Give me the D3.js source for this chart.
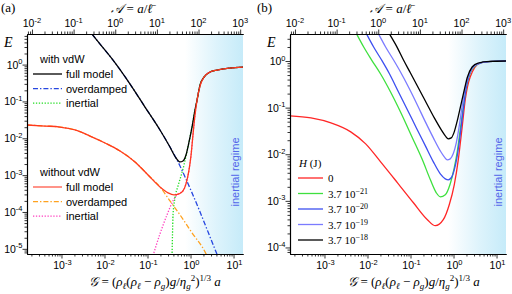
<!DOCTYPE html>
<html><head><meta charset="utf-8">
<script src="https://cdn.jsdelivr.net/npm/d3@7"></script>
<style>body{margin:0;background:#fff}svg{display:block}</style>
</head><body>
<svg id="c" width="512" height="294"></svg>
<script>
// ---------- axis extents & tick labels ----------
const gDomain = [1.58e-4, 16.6];          // G (bottom axis)
const aDomain = [7.6e-3, 1.17e3];         // A = a / l (top axis)
const eDomainA = [7.24e-6, 6.76];         // E panel (a)
const eDomainB = [7.24e-5, 3.80];         // E panel (b)
const gTicks = [1e-3, 1e-2, 1e-1, 1, 10];
const gTickLabels = ['-3', '-2', '-1', '0', '1'];
const aTicks = [1e-2, 1e-1, 1, 10, 100, 1000];
const aTickLabels = ['-2', '-1', '0', '1', '2', '3'];
const eTicksA = [1e-5, 1e-4, 1e-3, 1e-2, 1e-1, 1];
const eTickLabelsA = ['-5', '-4', '-3', '-2', '-1', '0'];
const eTicksB = [1e-4, 1e-3, 1e-2, 1e-1, 1];
const eTickLabelsB = ['-4', '-3', '-2', '-1', '0'];
const regimeStart = 0.745;                // start of "inertial regime" shading (G)

// ---------- panel (a) series ----------
const gA_vdwFull = [5.14e-3, 7.89e-3, 1.58e-2, 3.93e-2, 8.75e-2, 0.195, 0.333, 0.460, 0.570, 0.668, 0.785, 0.923, 1.084, 1.27, 1.42, 1.66, 2.06, 2.84, 4.13, 8.28, 16.6];
const eA_vdwFull = [6.71, 3.60, 1.32, 0.296, 7.05e-2, 1.68e-2, 5.81e-3, 2.92e-3, 2.28e-3, 2.43e-3, 3.52e-3, 7.94e-3, 2.02e-2, 5.85e-2, 0.109, 0.278, 0.458, 0.627, 0.710, 0.804, 0.855];
const gA_vdwOver = [5.14e-3, 7.89e-3, 1.58e-2, 3.93e-2, 8.75e-2, 0.195, 0.333, 0.460, 0.570, 0.745, 1.084, 1.66, 2.55, 3.91, 4.35];
const eA_vdwOver = [6.71, 3.60, 1.32, 0.296, 7.05e-2, 1.68e-2, 5.81e-3, 2.92e-3, 1.77e-3, 8.93e-4, 3.30e-4, 1.01e-4, 2.89e-5, 8.30e-6, 6.07e-6];
const gA_vdwInert = [0.372, 0.381, 0.392, 0.436, 0.512, 0.601, 0.706, 0.785, 0.923, 1.084, 1.27, 1.42, 1.66, 2.06, 2.84, 4.13, 8.28, 16.6];
const eA_vdwInert = [6.46e-6, 2.39e-5, 8.34e-5, 2.41e-4, 5.09e-4, 9.51e-4, 1.89e-3, 3.31e-3, 7.94e-3, 2.02e-2, 5.85e-2, 0.109, 0.278, 0.458, 0.627, 0.710, 0.804, 0.855];
const gA_full = [1.58e-4, 4.15e-4, 9.27e-4, 2.07e-3, 4.61e-3, 1.03e-2, 2.30e-2, 5.13e-2, 0.103, 0.195, 0.300, 0.413, 0.540, 0.668, 0.785, 0.923, 1.03, 1.14, 1.27, 1.42, 1.66, 2.06, 2.84, 4.13, 8.28, 16.6];
const eA_full = [2.29e-2, 2.15e-2, 2.02e-2, 1.68e-2, 1.15e-2, 7.46e-3, 4.53e-3, 2.28e-3, 1.01e-3, 4.79e-4, 3.30e-4, 2.90e-4, 3.10e-4, 3.73e-4, 5.78e-4, 1.38e-3, 3.52e-3, 1.23e-2, 4.28e-2, 0.109, 0.261, 0.458, 0.627, 0.710, 0.804, 0.855];
const gA_over = [1.58e-4, 4.15e-4, 9.27e-4, 2.07e-3, 4.61e-3, 1.03e-2, 2.30e-2, 5.13e-2, 0.103, 0.195, 0.333, 0.570, 1.084, 2.17, 2.42];
const eA_over = [2.29e-2, 2.15e-2, 2.02e-2, 1.68e-2, 1.15e-2, 7.46e-3, 4.53e-3, 2.28e-3, 1.01e-3, 4.79e-4, 2.00e-4, 8.34e-5, 2.72e-5, 8.30e-6, 6.46e-6];
const gA_inert = [0.134, 0.195, 0.284, 0.372, 0.460, 0.570, 0.668, 0.785, 0.923, 1.03, 1.14, 1.27, 1.42, 1.66, 2.06, 2.84, 4.13, 8.28, 16.6];
const eA_inert = [6.46e-6, 2.55e-5, 8.34e-5, 1.77e-4, 2.73e-4, 3.30e-4, 3.73e-4, 5.78e-4, 1.38e-3, 3.52e-3, 1.23e-2, 4.28e-2, 0.109, 0.261, 0.458, 0.627, 0.710, 0.804, 0.855];

// ---------- panel (b) series (Hamaker constant H) ----------
const hLabels = ['0', '3.7 10|-21', '3.7 10|-20', '3.7 10|-19', '3.7 10|-18'];
const gB_h0 = [1.58e-4, 4.85e-4, 1.41e-3, 4.08e-3, 9.08e-3, 2.02e-2, 4.99e-2, 0.117, 0.247, 0.378, 0.578, 0.796, 1.04, 1.29, 1.59, 1.87, 2.44, 4.15, 8.30, 16.6];
const eB_h0 = [6.64e-2, 6.01e-2, 4.70e-2, 3.02e-2, 1.67e-2, 6.87e-3, 2.44e-3, 9.10e-4, 3.94e-4, 2.93e-4, 3.94e-4, 8.24e-4, 2.21e-3, 7.59e-3, 3.86e-2, 0.146, 0.454, 0.906, 0.98, 1.0];
const gB_h21 = [5.62e-3, 8.17e-3, 1.25e-2, 2.02e-2, 3.44e-2, 5.86e-2, 0.111, 0.189, 0.290, 0.398, 0.493, 0.644, 0.839, 1.04, 1.22, 1.43, 1.68, 1.97, 2.44, 3.18, 4.15, 8.30, 16.6];
const eB_h21 = [3.78, 2.00, 1.05, 0.527, 0.217, 8.09e-2, 2.24e-2, 7.59e-3, 2.83e-3, 1.49e-3, 1.22e-3, 1.35e-3, 2.32e-3, 5.12e-3, 1.12e-2, 3.33e-2, 9.86e-2, 0.264, 0.553, 0.782, 0.906, 0.98, 1.0];
const gB_h20 = [9.57e-3, 1.39e-2, 2.13e-2, 3.26e-2, 5.26e-2, 8.51e-2, 0.137, 0.222, 0.340, 0.493, 0.644, 0.755, 0.885, 1.04, 1.22, 1.43, 1.68, 1.97, 2.31, 3.01, 4.15, 8.30, 16.6];
const eB_h20 = [3.78, 2.00, 1.05, 0.527, 0.217, 8.93e-2, 3.67e-2, 1.51e-2, 6.87e-3, 3.80e-3, 2.97e-3, 2.83e-3, 3.13e-3, 4.63e-3, 9.24e-3, 2.60e-2, 8.93e-2, 0.264, 0.501, 0.782, 0.906, 0.98, 1.0];
const gB_h19 = [1.82e-2, 2.64e-2, 4.04e-2, 5.86e-2, 8.97e-2, 0.137, 0.222, 0.340, 0.493, 0.610, 0.716, 0.839, 0.984, 1.16, 1.36, 1.59, 1.87, 2.19, 2.86, 4.15, 8.30, 16.6];
const eB_h19 = [3.78, 2.00, 1.05, 0.581, 0.277, 0.126, 4.94e-2, 2.24e-2, 1.18e-2, 8.80e-3, 7.59e-3, 7.96e-3, 1.02e-2, 1.75e-2, 4.06e-2, 0.109, 0.264, 0.454, 0.744, 0.906, 0.98, 1.0];
const gB_h18 = [3.26e-2, 4.73e-2, 6.87e-2, 9.98e-2, 0.153, 0.234, 0.358, 0.520, 0.644, 0.755, 0.885, 1.04, 1.22, 1.43, 1.59, 1.87, 2.07, 2.71, 3.73, 7.08, 16.6];
const eB_h18 = [3.78, 2.09, 1.05, 0.553, 0.264, 0.126, 6.01e-2, 3.33e-2, 2.48e-2, 2.14e-2, 2.24e-2, 3.02e-2, 5.19e-2, 9.86e-2, 0.153, 0.292, 0.433, 0.744, 0.906, 0.98, 1.0];

// ---------- drawing ----------
const svg = d3.select('#c');
const defs = svg.append('defs');
const sans = "'Liberation Sans', Arial, sans-serif";
const serif = "'Liberation Serif', 'DejaVu Serif', serif";
const yTop = 34, yBot = 254;

function minorTicks(domain) {
  const out = [];
  const lo = Math.floor(Math.log10(domain[0])), hi = Math.ceil(Math.log10(domain[1]));
  for (let k = lo; k <= hi; k++) for (let m = 2; m <= 9; m++) {
    const v = m * Math.pow(10, k);
    if (v >= domain[0] && v <= domain[1]) out.push(v);
  }
  return out;
}
function powText(sel, exp) {
  sel.append('tspan').text('10');
  sel.append('tspan').attr('dy', -4.5).attr('font-size', 7.5).text(exp);
}
function styleAxis(g) {
  g.selectAll('path.domain').attr('stroke', '#000').attr('stroke-width', 1.1);
  g.selectAll('.tick line').attr('stroke', '#000').attr('stroke-width', 0.8);
}

const panels = [
  {id: 'a', x0: 27, x1: 243, eDomain: eDomainA, eTicks: eTicksA, eLabels: eTickLabelsA,
   tag: '(a)', tagX: 1, titleX: 132, botX: 155, eX: 4,
   series: [
     {g: gA_inert, e: eA_inert, color: '#ff3fbf', dash: '1.3,1.6'},
     {g: gA_vdwInert, e: eA_vdwInert, color: '#22dd22', dash: '1.3,1.6'},
     {g: gA_over, e: eA_over, color: '#ffa21f', dash: '5,2,1.4,2'},
     {g: gA_vdwOver, e: eA_vdwOver, color: '#2747e0', dash: '5,2,1.4,2'},
     {g: gA_vdwFull, e: eA_vdwFull, color: '#000000'},
     {g: gA_full, e: eA_full, color: '#ff3a1e'}
   ]},
  {id: 'b', x0: 290, x1: 506, eDomain: eDomainB, eTicks: eTicksB, eLabels: eTickLabelsB,
   tag: '(b)', tagX: 257, titleX: 391, botX: 414, eX: 267,
   series: [
     {g: gB_h0, e: eB_h0, color: '#ff2626'},
     {g: gB_h21, e: eB_h21, color: '#3ee03e'},
     {g: gB_h20, e: eB_h20, color: '#3d4ff0'},
     {g: gB_h19, e: eB_h19, color: '#7b7bff'},
     {g: gB_h18, e: eB_h18, color: '#000000'}
   ]}
];

panels.forEach(p => {
  const x = d3.scaleLog().domain(gDomain).range([p.x0, p.x1]);
  const xa = d3.scaleLog().domain(aDomain).range([p.x0, p.x1]);
  const y = d3.scaleLog().domain(p.eDomain).range([yBot, yTop]);

  // inertial regime shading
  const gid = 'grad' + p.id;
  const xs = x(regimeStart);
  const lg = defs.append('linearGradient').attr('id', gid).attr('gradientUnits', 'userSpaceOnUse')
    .attr('x1', xs).attr('x2', p.x1).attr('y1', 0).attr('y2', 0);
  lg.append('stop').attr('offset', 0).attr('stop-color', '#c6ebf9').attr('stop-opacity', 0);
  lg.append('stop').attr('offset', 0.55).attr('stop-color', '#c6ebf9').attr('stop-opacity', 0.6);
  lg.append('stop').attr('offset', 1).attr('stop-color', '#c6ebf9').attr('stop-opacity', 1);
  svg.append('rect').attr('x', xs).attr('y', yTop).attr('width', p.x1 - xs).attr('height', yBot - yTop)
    .attr('fill', `url(#${gid})`);

  svg.append('text').attr('transform', `translate(${x(13.5)},${(yTop + yBot) / 2 + 28}) rotate(-90)`)
    .attr('text-anchor', 'middle').attr('font-family', sans).attr('font-size', 11)
    .attr('fill', '#5466ea').text('inertial regime');

  // curves
  const cid = 'clip' + p.id;
  defs.append('clipPath').attr('id', cid).append('rect')
    .attr('x', p.x0).attr('y', yTop).attr('width', p.x1 - p.x0).attr('height', yBot - yTop);
  const gl = svg.append('g').attr('clip-path', `url(#${cid})`);
  const line = d3.line().x(d => x(d[0])).y(d => y(d[1])).curve(d3.curveMonotoneX);
  p.series.forEach(s => {
    gl.append('path').datum(d3.zip(s.g, s.e)).attr('d', line)
      .attr('fill', 'none').attr('stroke', s.color).attr('stroke-width', 1.3)
      .attr('stroke-dasharray', s.dash || null).attr('stroke-linejoin', 'round');
  });

  // axes
  const bot = svg.append('g').attr('transform', `translate(0,${yBot})`);
  bot.append('g').call(d3.axisBottom(x).tickValues(minorTicks(gDomain)).tickSize(2.5).tickSizeOuter(0).tickFormat(''));
  bot.append('g').call(d3.axisBottom(x).tickValues(gTicks).tickSize(4.5).tickSizeOuter(0).tickFormat(''));
  styleAxis(bot);
  const top = svg.append('g').attr('transform', `translate(0,${yTop})`);
  top.append('g').call(d3.axisTop(xa).tickValues(minorTicks(aDomain)).tickSize(2.5).tickSizeOuter(0).tickFormat(''));
  top.append('g').call(d3.axisTop(xa).tickValues(aTicks).tickSize(4.5).tickSizeOuter(0).tickFormat(''));
  styleAxis(top);
  const lft = svg.append('g').attr('transform', `translate(${p.x0},0)`);
  lft.append('g').call(d3.axisLeft(y).tickValues(minorTicks(p.eDomain)).tickSize(2.5).tickSizeOuter(0).tickFormat(''));
  lft.append('g').call(d3.axisLeft(y).tickValues(p.eTicks).tickSize(4.5).tickSizeOuter(0).tickFormat(''));
  styleAxis(lft);

  // tick labels
  gTicks.forEach((v, i) => {
    const t = svg.append('text').attr('x', x(v) + 1).attr('y', yBot + 15).attr('text-anchor', 'middle')
      .attr('font-family', sans).attr('font-size', 10.5);
    powText(t, gTickLabels[i]);
  });
  aTicks.forEach((v, i) => {
    const t = svg.append('text').attr('x', xa(v)).attr('y', yTop - 7).attr('text-anchor', 'middle')
      .attr('font-family', sans).attr('font-size', 10.5);
    powText(t, aTickLabels[i]);
  });
  p.eTicks.forEach((v, i) => {
    const t = svg.append('text').attr('x', p.x0 - 4.5).attr('y', y(v) + 4).attr('text-anchor', 'end')
      .attr('font-family', sans).attr('font-size', 10.5);
    powText(t, p.eLabels[i]);
  });

  // panel tag, axis titles
  svg.append('text').attr('x', p.tagX).attr('y', 12).attr('font-family', serif).attr('font-size', 13).text(p.tag);
  svg.append('text').attr('x', p.eX).attr('y', 47).attr('font-family', serif).attr('font-style', 'italic')
    .attr('font-size', 14).text('E');
  const tt = svg.append('text').attr('x', p.titleX).attr('y', 13).attr('text-anchor', 'middle')
    .attr('font-family', serif).attr('font-size', 13);
  tt.append('tspan').attr('font-style', 'italic').text('𝒜');
  tt.append('tspan').text(' = ');
  tt.append('tspan').attr('font-style', 'italic').text('a');
  tt.append('tspan').text('/');
  tt.append('tspan').attr('font-style', 'italic').text('ℓ̄');

  // bottom title: each piece carries its own baseline shift
  const bt = svg.append('text').attr('x', p.botX).attr('y', 286).attr('text-anchor', 'middle')
    .attr('font-family', serif).attr('font-size', 13);
  let cur = 0;
  const piece = (s, o = {}) => {
    const shift = o.shift || 0;
    const t = bt.append('tspan').attr('dy', shift - cur).text(s);
    cur = shift;
    if (o.it) t.attr('font-style', 'italic');
    if (o.small) t.attr('font-size', 9);
  };
  piece('𝒢', {it: 1}); piece(' = ('); piece('ρ', {it: 1}); piece('ℓ', {it: 1, small: 1, shift: 3});
  piece('('); piece('ρ', {it: 1}); piece('ℓ', {it: 1, small: 1, shift: 3});
  piece(' − '); piece('ρ', {it: 1}); piece('g', {it: 1, small: 1, shift: 3});
  piece(')'); piece('g', {it: 1}); piece('/'); piece('η', {it: 1});
  piece('g', {it: 1, small: 1, shift: 3}); piece('2', {small: 1, shift: -5});
  piece(')'); piece('1/3', {small: 1, shift: -5}); piece('  '); piece('a', {it: 1});
});

// ---------- legends ----------
const legA = [
  {title: 'with vdW', y0: 59, items: [
    {label: 'full model', color: '#000000'},
    {label: 'overdamped', color: '#2747e0', dash: '5,2,1.4,2'},
    {label: 'inertial', color: '#22dd22', dash: '1.3,1.6'}]},
  {title: 'without vdW', y0: 172, items: [
    {label: 'full model', color: '#ff5a4a'},
    {label: 'overdamped', color: '#ffa21f', dash: '5,2,1.4,2'},
    {label: 'inertial', color: '#ff3fbf', dash: '1.3,1.6'}]}
];
legA.forEach(L => {
  svg.append('text').attr('x', 40).attr('y', L.y0 + 4).attr('font-family', sans).attr('font-size', 11).text(L.title);
  L.items.forEach((it, i) => {
    const yy = L.y0 + 15 + i * 14.6;
    svg.append('line').attr('x1', 33).attr('x2', 62).attr('y1', yy).attr('y2', yy)
      .attr('stroke', it.color).attr('stroke-width', 1.3).attr('stroke-dasharray', it.dash || null);
    svg.append('text').attr('x', 66).attr('y', yy + 4).attr('font-family', sans).attr('font-size', 11).text(it.label);
  });
});

const ht = svg.append('text').attr('x', 299).attr('y', 167).attr('font-family', serif).attr('font-size', 11);
ht.append('tspan').attr('font-style', 'italic').text('H');
ht.append('tspan').text(' (J)');
panels[1].series.forEach((s, i) => {
  const yy = 178 + i * 15.5;
  svg.append('line').attr('x1', 298).attr('x2', 323).attr('y1', yy).attr('y2', yy)
    .attr('stroke', s.color).attr('stroke-width', 1.3);
  const t = svg.append('text').attr('x', 328).attr('y', yy + 4).attr('font-family', serif).attr('font-size', 11);
  const parts = hLabels[i].split('|');
  t.append('tspan').text(parts[0]);
  if (parts[1]) t.append('tspan').attr('dy', -4).attr('font-size', 8).text(parts[1].replace('-', '−'));
});
</script>
</body></html>
